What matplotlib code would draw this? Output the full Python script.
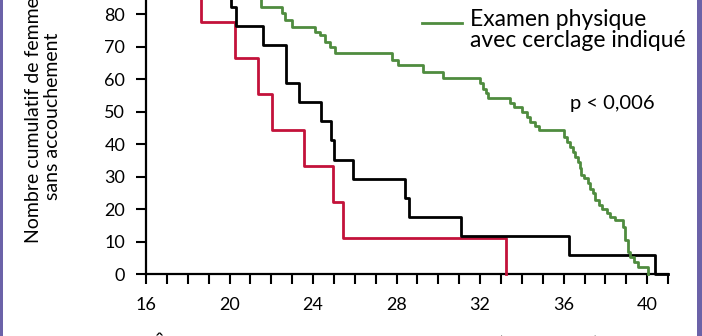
import matplotlib
matplotlib.use("Agg")
import matplotlib.pyplot as plt
from matplotlib.lines import Line2D

plt.rcParams['font.family'] = ['Lato', 'DejaVu Sans']

# ----------------------------
# DATA (weeks of gestation at each delivery, % still undelivered after it)
# ----------------------------
red_weeks = [16.0, 17.6, 18.64, 20.24, 21.36, 22.03, 23.57, 24.96, 25.44, 33.25]
red_values = [100.0, 88.9, 77.8, 66.7, 55.6, 44.4, 33.3, 22.2, 11.1, 0.0]

black_weeks = [16.0, 17.8, 19.3, 20.08, 20.30, 21.60, 22.70, 23.33, 24.38,
               24.86, 24.99, 25.90, 28.40, 28.61, 31.07, 36.24, 40.37, 41.0]
black_values = [100.0, 94.1, 88.2, 82.4, 76.5, 70.6, 58.8, 52.9, 47.1,
                41.2, 35.3, 29.4, 23.5, 17.6, 11.8, 5.9, 0.0, 0.0]

green_weeks = [16.0, 18.0, 19.0, 20.0, 20.8, 21.52, 22.51, 22.64, 22.99,
               24.11, 24.32, 24.56, 24.80, 25.04, 27.76, 28.08, 29.26, 30.24,
               32.00, 32.16, 32.29, 32.40, 33.44, 33.60, 34.00, 34.24, 34.40,
               34.64, 34.80, 36.03, 36.16, 36.32, 36.43, 36.56, 36.67, 36.80,
               36.85, 36.96, 37.15, 37.28, 37.41, 37.52, 37.68, 37.84, 38.08,
               38.24, 38.48, 38.85, 38.96, 39.07, 39.17, 39.36, 39.55, 40.03]
green_values = [100.0, 98.0, 96.0, 92.0, 88.0, 82.3, 80.3, 78.2, 76.2,
                74.5, 73.6, 71.5, 70.0, 68.2, 65.9, 64.4, 62.3, 60.3,
                58.8, 56.9, 55.7, 54.2, 52.6, 51.6, 50.0, 48.5, 47.0,
                45.6, 44.4, 42.3, 40.8, 39.3, 37.7, 36.2, 34.6, 32.6,
                30.6, 29.5, 28.2, 26.4, 24.9, 22.9, 21.3, 20.0, 18.8,
                17.7, 16.7, 14.6, 10.6, 7.0, 5.4, 3.9, 2.3, 0.0]

x_major = [16, 20, 24, 28, 32, 36, 40]
y_ticks = [0, 10, 20, 30, 40, 50, 60, 70, 80, 90, 100]

RED = '#c3123a'
GREEN = '#4f8c3f'
PURPLE = '#6b62a8'

fig = plt.figure(figsize=(7.02, 3.36), dpi=100)
fig.patch.set_facecolor('white')

# axes run past the top edge of the panel
ax = fig.add_axes([0.208, 0.1836, 0.7436, 0.967])

ax.step(red_weeks, red_values, where='post', color=RED, lw=2.0, clip_on=False, zorder=3)
ax.step(black_weeks, black_values, where='post', color='black', lw=2.0, clip_on=False, zorder=4)
ax.step(green_weeks, green_values, where='post', color=GREEN, lw=2.0, clip_on=False, zorder=5)

ax.set_xlim(16, 41)
ax.set_ylim(0, 100)
ax.set_xticks(x_major)
ax.set_xticks(range(16, 42), minor=True)
ax.set_yticks(y_ticks)

for side in ('top', 'right'):
    ax.spines[side].set_visible(False)
for side in ('left', 'bottom'):
    ax.spines[side].set_linewidth(1.6)

ax.tick_params(which='both', direction='out', length=7, width=1.5, colors='black')
ax.tick_params(axis='y', labelsize=13, pad=8)
ax.tick_params(axis='x', labelsize=13, pad=9)

ax.set_ylabel("Nombre cumulatif de femmes\nsans accouchement", fontsize=14,
              linespacing=1.15)
ax.yaxis.set_label_coords(-0.163, 0.487)

# x label sits almost entirely below the panel edge
fig.text(152 / 702, 4 / 336, "Âge gestationnel à l'accouchement (semaines)", fontsize=16,
         ha='left', va='top')

# legend entry drawn by hand so the line sits on the first text line
fig.add_artist(Line2D([422 / 702, 462 / 702], [1 - 23 / 336, 1 - 23 / 336],
                      transform=fig.transFigure, color=GREEN, lw=2.0))
fig.text(470 / 702, 1 - 9 / 336, "Examen physique\navec cerclage indiqué",
         fontsize=16.5, ha='left', va='top', linespacing=1.0)
fig.text(570 / 702, 1 - 103 / 336, "p < 0,006", fontsize=14.5, ha='left', va='center')

# purple frame strips on both sides
fig.add_artist(plt.Rectangle((0, 0), 3 / 702, 1, transform=fig.transFigure,
                             color=PURPLE, lw=0))
fig.add_artist(plt.Rectangle((697 / 702, 0), 5 / 702, 1, transform=fig.transFigure,
                             color=PURPLE, lw=0))

fig.savefig("out.png", dpi=100)
